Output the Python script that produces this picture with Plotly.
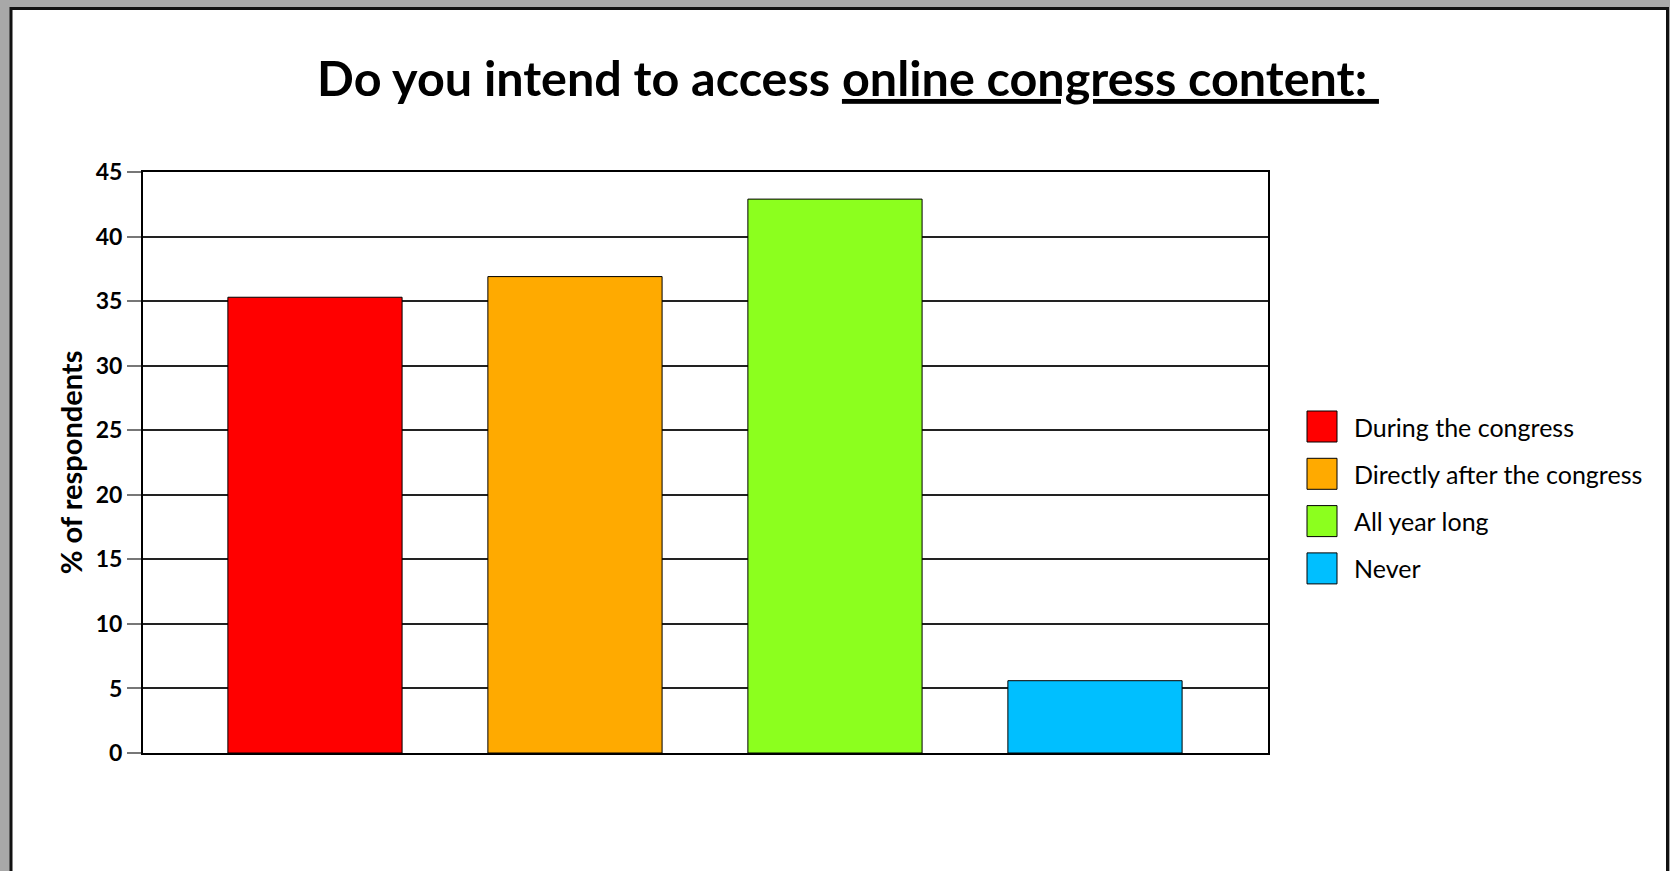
import plotly.graph_objects as go

# ---- data ----
categories = ["During the congress", "Directly after the congress", "All year long", "Never"]
values = [35.3, 36.9, 42.9, 5.6]
colors = ["#FF0000", "#FFAA00", "#8CFF1E", "#00BFFF"]
y_ticks = [0, 5, 10, 15, 20, 25, 30, 35, 40, 45]

W, H = 1670, 871
L, R, T, B = 143, 1268, 172, 753  # plot area in px
FONT = "Lato"

def px_x(px):
    return (px - L) / (R - L)

def px_y(py):
    return (B - py) / (B - T)

fig = go.Figure()
fig.add_trace(go.Bar(
    x=categories, y=values,
    marker=dict(color=colors, line=dict(color="#000000", width=1)),
    width=0.67, showlegend=False, hoverinfo="skip",
))

shapes = []
# page frame: grey surround with white sheet and black edge
shapes.append(dict(type="rect", xref="paper", yref="paper", layer="below",
                   x0=px_x(11), x1=px_x(1667.5), y0=px_y(900), y1=px_y(8.5),
                   fillcolor="white", line=dict(color="#111111", width=3)))

annotations = []
# manual legend
for i, (name, col) in enumerate(zip(categories, colors)):
    yc = 426.5 + 47.3 * i
    shapes.append(dict(type="rect", xref="paper", yref="paper",
                       x0=px_x(1307), x1=px_x(1337), y0=px_y(yc + 15.5), y1=px_y(yc - 15.5),
                       fillcolor=col, line=dict(color="#000000", width=1)))
    annotations.append(dict(xref="paper", yref="paper", x=px_x(1352), y=px_y(yc),
                            xanchor="left", yanchor="middle", showarrow=False,
                            text=name, font=dict(family=FONT, size=25, color="#000000")))

fig.update_layout(
    width=W, height=H,
    margin=dict(l=L, r=W - R, t=T, b=H - B, pad=0),
    paper_bgcolor="#A8A8A8",
    plot_bgcolor="white",
    title=dict(
        text="<b>Do you intend to access <u>online congress content:&nbsp;</u></b>",
        x=848 / W, xanchor="center", xref="container",
        y=1 - 79 / H, yanchor="middle", yref="container",
        font=dict(family=FONT, size=48.5, color="#000000"),
    ),
    xaxis=dict(
        type="category", range=[-0.6615, 3.6654], showticklabels=False,
        showgrid=False, ticks="", showline=True, linecolor="#000000", linewidth=2,
        mirror=True, zeroline=False, fixedrange=True,
    ),
    yaxis=dict(
        range=[0, 45], tickvals=y_ticks, ticktext=[str(v) for v in y_ticks],
        tickfont=dict(family=FONT, size=23, color="#000000", weight="bold"),
        ticks="outside", ticklen=14, tickcolor="#777777", tickwidth=1.5,
        showgrid=True, gridcolor="#222222", gridwidth=1.5,
        showline=True, linecolor="#000000", linewidth=2, mirror=True,
        zeroline=False, fixedrange=True,
        title=dict(text="<b>% of respondents</b>", standoff=5,
                   font=dict(family=FONT, size=29, color="#000000")),
    ),
    shapes=shapes,
    annotations=annotations,
    bargap=0.33,
    hovermode=False,
)

fig.write_html("out.html", config={"displayModeBar": False},
               post_script="document.body.style.margin='0';document.body.style.background='#A8A8A8';")
